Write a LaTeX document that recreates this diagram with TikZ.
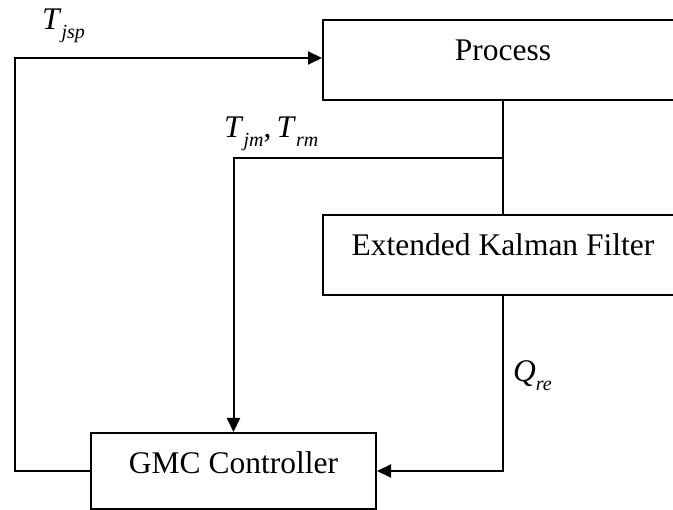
\documentclass[tikz,border=0pt]{standalone}
\usepackage{fontspec}
\setmainfont{Liberation Serif}
\usetikzlibrary{arrows.meta}
\newcommand{\subsc}[2]{\textit{#1}\raisebox{-0.28em}{\fontsize{20}{22}\selectfont\textit{#2}}}
\begin{document}
\begin{tikzpicture}[x=1pt,y=-1pt,
  box/.style={draw, line width=2pt, inner sep=0pt, anchor=north west,
    font=\fontsize{31.5}{36}\selectfont},
  arr/.style={line width=2pt, -{Triangle[length=14pt,width=13pt]}},
  ln/.style={line width=2pt},
  lab/.style={font=\fontsize{31.5}{36}\selectfont, inner sep=0pt, anchor=base west}]
\useasboundingbox (0,0) rectangle (673,510);
\node[box, minimum width=360pt, minimum height=80pt, text height=11pt, text depth=9pt] (proc) at (322,19) {Process};
\node[box, minimum width=360pt, minimum height=80pt, text height=11pt, text depth=9pt] (ekf) at (322,214) {Extended Kalman Filter};
\node[box, minimum width=285pt, minimum height=76pt, text height=13pt, text depth=7pt] (gmc) at (90,432) {GMC Controller};
\coordinate (br) at (proc.south |- 0,158);
\draw[ln] (proc.south) -- (ekf.north);
\draw[arr] (br) -| (gmc.north);
\draw[arr] (ekf.south) |- (gmc.east);
\draw[arr] (gmc.west) -- ++(-75,0) |- ([yshift=2pt]proc.west);
\node[lab] (ljsp) at (42,30) {\subsc{T}{jsp}};
\node[lab] (ljm) at (224,138) {\subsc{T}{jm},\,\subsc{T}{rm}};
\node[lab] (lqre) at (513,382) {\subsc{Q}{re}};
\end{tikzpicture}
\end{document}
